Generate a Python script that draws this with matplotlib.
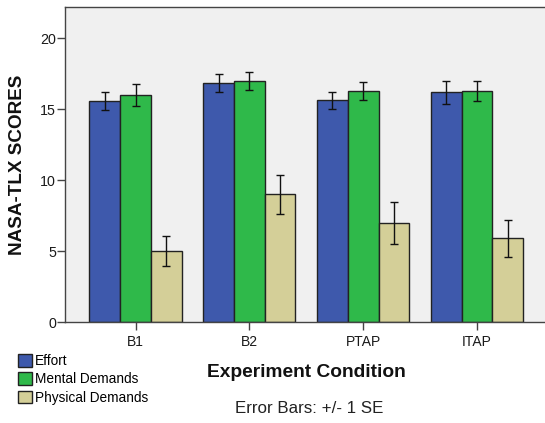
import matplotlib
matplotlib.use("Agg")
import matplotlib.pyplot as plt
import numpy as np
from matplotlib.patches import Patch

plt.rcParams['font.family'] = ['Liberation Sans', 'DejaVu Sans']

categories = ["B1", "B2", "PTAP", "ITAP"]
series_names = ["Effort", "Mental Demands", "Physical Demands"]
effort = [15.6, 16.85, 15.65, 16.2]
effort_se = [0.62, 0.65, 0.60, 0.80]
mental = [16.0, 17.0, 16.3, 16.3]
mental_se = [0.80, 0.65, 0.65, 0.70]
physical = [5.0, 9.0, 7.0, 5.9]
physical_se = [1.05, 1.38, 1.48, 1.30]
yticks = [0, 5, 10, 15, 20]

colors = ["#3E59AC", "#2FB94A", "#D4CF98"]

W, H = 545, 423
fig = plt.figure(figsize=(W / 100, H / 100), dpi=100)
fig.patch.set_facecolor("white")

left, right, top, bottom = 65, 548, 7, 322
ax = fig.add_axes([left / W, (H - bottom) / H, (right - left) / W, (bottom - top) / H])
ax.set_facecolor("#F0F0F0")

x = np.arange(len(categories))
bw = 0.27
vals = [effort, mental, physical]
ses = [effort_se, mental_se, physical_se]
for i, (v, s, c) in enumerate(zip(vals, ses, colors)):
    xs = x + (i - 1) * bw
    ax.bar(xs, v, width=bw, color=c, edgecolor="#222222", linewidth=1.0, zorder=2)
    ax.errorbar(xs, v, yerr=s, fmt="none", ecolor="#111111", elinewidth=1.0,
                capsize=3, capthick=1.0, zorder=3)

px_per_unit = 113.8
ax.set_xlim(-70.5 / px_per_unit, 3 + (right - 477) / px_per_unit)
ax.set_ylim(0, (bottom - top) / 14.18)
ax.set_xticks(x)
ax.set_xticklabels(categories, fontsize=10, color="#1a1a1a")
ax.set_yticks(yticks)
ax.set_yticklabels([str(t) for t in yticks], fontsize=10.3, color="#1a1a1a")
ax.tick_params(axis="both", direction="out", length=5.5, width=1.0, color="#444444")
ax.tick_params(axis="y", pad=1)
ax.tick_params(axis="x", pad=4)
for sp in ax.spines.values():
    sp.set_color("#444444")
    sp.set_linewidth(1.0)
ax.spines["right"].set_visible(False)

fig.text(18 / W, 1 - 165 / H, "NASA-TLX SCORES", rotation=90, ha="center", va="center",
         fontsize=13.6, fontweight="bold", color="#111111")
fig.text(306 / W, 1 - 372 / H, "Experiment Condition", ha="center", va="center",
         fontsize=13.8, fontweight="bold", color="#111111")
fig.text(309.5 / W, 1 - 408 / H, "Error Bars: +/- 1 SE", ha="center", va="center",
         fontsize=12.2, color="#222222")

handles = [Patch(facecolor=c, edgecolor="#222222", linewidth=1.0) for c in colors]
fig.legend(handles, series_names, loc="upper left", bbox_to_anchor=(18 / W, 1 - 354 / H),
           frameon=False, fontsize=9.8, handlelength=1.03, handleheight=1.03,
           handletextpad=0.22, labelspacing=0.32, borderpad=0, borderaxespad=0)

fig.savefig("out.png", dpi=100)
